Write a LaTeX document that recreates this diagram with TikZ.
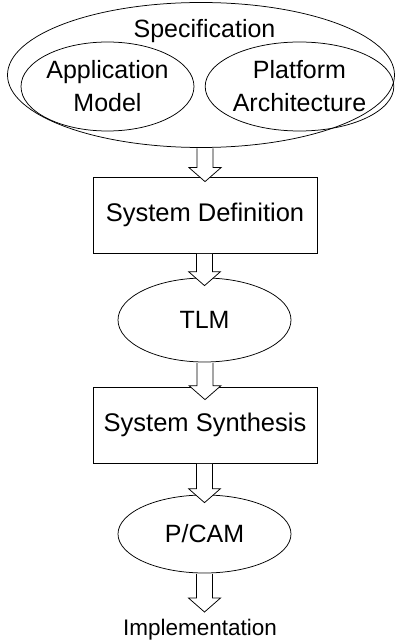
\documentclass[tikz,border=0pt]{standalone}
\usepackage{fontspec}
\setmainfont{Liberation Sans}
\usetikzlibrary{shapes.geometric,calc}

\tikzset{
  outline/.style={draw=black, line width=0.75pt},
  oval/.style={outline, ellipse, inner sep=0pt, align=center,
    font=\fontsize{25}{31}\selectfont},
  stagebox/.style={outline, rectangle, inner sep=0pt,
    minimum width=224pt, minimum height=76pt,
    font=\fontsize{25.5}{31}\selectfont},
  label text/.style={inner sep=0pt, font=\fontsize{25}{31}\selectfont},
  blockarrowstyle/.style={draw=black, fill=white, line width=0.75pt, line join=miter}
}

% Hollow block arrow: shaft starts at #1, tip sits #3 below anchor #2
\newcommand\blockarrow[3]{%
  \filldraw[blockarrowstyle] let \p1=(#1), \p2=(#2) in
    (\x2-8pt,\y1-0.4pt) -- (\x2-8pt,\y2-#3+14pt) -- (\x2-16pt,\y2-#3+14pt)
    -- (\x2,\y2-#3) -- (\x2+16pt,\y2-#3+14pt) -- (\x2+8pt,\y2-#3+14pt)
    -- (\x2+8pt,\y1-0.4pt);}

\begin{document}
\begin{tikzpicture}[x=1pt,y=-1pt]
  \useasboundingbox (0,0) rectangle (396,644);

  % specification with its two parts
  \node[oval, minimum width=387pt, minimum height=145pt] (spec) at (201,75) {};
  \node[label text, anchor=base] (spectitle) at (204.5,38) {Specification};
  \node[oval, minimum width=171pt, minimum height=89pt] (app) at (107.5,86.5)
    {Application\\[2pt]Model};
  \node[oval, minimum width=171pt, minimum height=89pt] (plat) at (299.5,86.5)
    {Platform\\[2pt]Architecture};

  % design flow
  \node[stagebox] (sysdef) at (205,215) {System Definition};
  \node[oval, minimum width=173pt, minimum height=84pt] (tlm) at (204.5,320) {TLM};
  \node[stagebox] (syssyn) at (205,425) {System Synthesis};
  \node[oval, minimum width=173pt, minimum height=78pt] (pcam) at (204.5,534) {P/CAM};
  \node[inner sep=0pt, anchor=base, font=\fontsize{22.5}{27}\selectfont] (impl)
    at (200,635) {Implementation};
  \coordinate (impltip) at (204.5,612);

  % arrows between the stages
  \blockarrow{spec.south}{sysdef.north}{5pt}
  \blockarrow{sysdef.south}{tlm.north}{8pt}
  \blockarrow{tlm.south}{syssyn.north}{13pt}
  \blockarrow{syssyn.south}{pcam.north}{8pt}
  \blockarrow{pcam.south}{impltip}{0pt}
\end{tikzpicture}
\end{document}
